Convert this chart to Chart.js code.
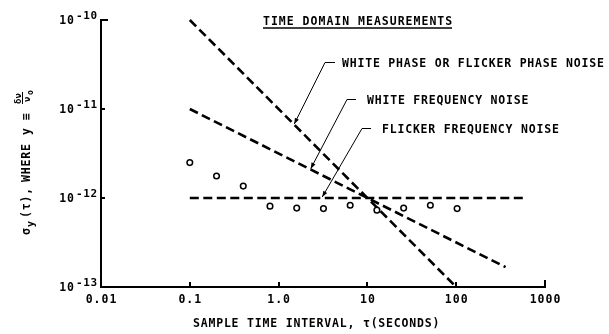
<!DOCTYPE html>
<html>
<head>
<meta charset="utf-8">
<script src="https://cdn.jsdelivr.net/npm/chart.js@4.4.1/dist/chart.umd.min.js"></script>
<style>
  html, body { margin: 0; padding: 0; background: #fff; }
  canvas { display: block; }
</style>
</head>
<body>
<canvas id="grafico" width="609" height="334"></canvas>
<script>
// valores
const tauMedido   = [0.1, 0.2, 0.4, 0.8, 1.6, 3.2, 6.4, 12.8, 25.6, 51.2, 102.4];
const sigmaMedido = [2.5e-12, 1.77e-12, 1.36e-12, 0.81e-12, 0.77e-12, 0.76e-12, 0.83e-12, 0.73e-12, 0.77e-12, 0.83e-12, 0.76e-12];

const tauFase     = [0.1, 100];
const sigmaFase   = [1e-10, 1e-13];
const tauFreq     = [0.1, 360];
const sigmaFreq   = [1e-11, 1.67e-13];
const tauFlicker  = [0.1, 600];
const sigmaFlicker = [1e-12, 1e-12];

const xTicks      = [0.01, 0.1, 1, 10, 100, 1000];
const xTickLabels = ['0.01', '0.1', '1.0', '10', '100', '1000'];
const yExpoentes  = [-10, -11, -12, -13];

const titulo = 'TIME DOMAIN MEASUREMENTS';
const tituloX = 'SAMPLE TIME INTERVAL, \u03C4(SECONDS)';

// rótulos com setas: texto e ponto (em dados) para onde a seta aponta
const rotulos = [
  { texto: 'WHITE PHASE OR FLICKER PHASE NOISE', alvo: { x: 1.5,  y: 6.6e-12 } },
  { texto: 'WHITE FREQUENCY NOISE',              alvo: { x: 2.3,  y: 2.08e-12 } },
  { texto: 'FLICKER FREQUENCY NOISE',            alvo: { x: 3.1,  y: 1e-12 } }
];

const FONTE = '"DejaVu Sans Mono", monospace';
const PESO = 'bold ';

function pares(xs, ys) { return xs.map((x, i) => ({ x: x, y: ys[i] })); }

function texto(ctx, s, x, y, tam, esp) {
  ctx.font = PESO + tam + 'px ' + FONTE;
  ctx.letterSpacing = (esp || 0) + 'px';
  ctx.fillText(s, x, y);
}

function seta(ctx, x0, y0, x1, y1) {
  ctx.beginPath();
  ctx.moveTo(x0, y0);
  ctx.lineTo(x1, y1);
  ctx.stroke();
  const a = Math.atan2(y1 - y0, x1 - x0);
  ctx.beginPath();
  ctx.moveTo(x1, y1);
  ctx.lineTo(x1 - 6 * Math.cos(a) + 2.2 * Math.sin(a), y1 - 6 * Math.sin(a) - 2.2 * Math.cos(a));
  ctx.lineTo(x1 - 6 * Math.cos(a) - 2.2 * Math.sin(a), y1 - 6 * Math.sin(a) + 2.2 * Math.cos(a));
  ctx.closePath();
  ctx.fill();
}

const textos = {
  id: 'textos',
  afterDraw(chart) {
    const ctx = chart.ctx;
    const sx = chart.scales.x, sy = chart.scales.y;
    const area = chart.chartArea;
    ctx.save();
    ctx.fillStyle = '#000';
    ctx.strokeStyle = '#000';
    ctx.textBaseline = 'alphabetic';

    // marcas dos eixos (para dentro)
    ctx.lineWidth = 2;
    ctx.beginPath();
    xTicks.slice(1).forEach((v, i) => {
      const px = Math.round(sx.getPixelForValue(v));
      const comp = (i === xTicks.length - 2) ? 7 : 5;
      ctx.moveTo(px, area.bottom);
      ctx.lineTo(px, area.bottom - comp);
    });
    yExpoentes.slice(0, 3).forEach((e, i) => {
      const py = Math.round(sy.getPixelForValue(Math.pow(10, e)));
      ctx.moveTo(area.left, py);
      ctx.lineTo(area.left + (i === 0 ? 7 : 4), py);
    });
    ctx.stroke();

    // rótulos do eixo x
    ctx.textAlign = 'center';
    xTicks.forEach((v, i) => {
      texto(ctx, xTickLabels[i], sx.getPixelForValue(v) + 0.5, 303, 11.5, 1);
    });

    // rótulos do eixo y: 10 com expoente
    yExpoentes.forEach(e => {
      const py = sy.getPixelForValue(Math.pow(10, e));
      ctx.textAlign = 'right';
      texto(ctx, '10', 75, py + 3.5, 11.5, 1);
      ctx.textAlign = 'left';
      texto(ctx, String(e), 76, py - 1.5, 11, 0.6);
    });

    // título do eixo x
    ctx.textAlign = 'left';
    texto(ctx, tituloX, 193, 327, 11.5, 0.8);

    // título do gráfico sublinhado
    texto(ctx, titulo, 263, 25, 11.5, 1);
    ctx.lineWidth = 1.5;
    ctx.beginPath();
    ctx.moveTo(263, 28);
    ctx.lineTo(452, 28);
    ctx.stroke();

    // rótulos das curvas com setas
    const inicios = [342, 367, 382];
    const bases = [67, 104, 133];
    const tocos = [[325, 335], [347, 356], [362, 371]];
    ctx.lineWidth = 1;
    rotulos.forEach((r, i) => {
      texto(ctx, r.texto, inicios[i], bases[i], 11.5, 0.8);
      const yl = bases[i] - 4.5;
      ctx.beginPath();
      ctx.moveTo(tocos[i][0], yl);
      ctx.lineTo(tocos[i][1], yl);
      ctx.stroke();
      seta(ctx, tocos[i][0], yl, sx.getPixelForValue(r.alvo.x), sy.getPixelForValue(r.alvo.y) - 1);
    });

    // título do eixo y (girado)
    ctx.save();
    ctx.translate(30, 235);
    ctx.rotate(-Math.PI / 2);
    ctx.textAlign = 'left';
    texto(ctx, '\u03C3', 0, 0, 11.5, 0);
    texto(ctx, 'y', 8, 3.5, 10, 0);
    texto(ctx, '(\u03C4),', 17, 0, 11.5, 0.8);
    texto(ctx, 'WHERE', 53, 0, 11.5, 0.8);
    texto(ctx, 'y', 100, 0, 11.5, 0);
    texto(ctx, '\u2261', 115, 0, 11.5, 0);
    texto(ctx, '\u03B4\u03BD', 131, -9, 9, 0);
    ctx.lineWidth = 1;
    ctx.beginPath();
    ctx.moveTo(131, -7.5);
    ctx.lineTo(143, -7.5);
    ctx.stroke();
    texto(ctx, '\u03BD', 133, 0, 9, 0);
    texto(ctx, 'o', 140, 3, 8, 0);
    ctx.restore();

    ctx.restore();
  }
};

const tracejado = [9, 4.5];

new Chart(document.getElementById('grafico'), {
  type: 'scatter',
  data: {
    datasets: [
      {
        label: 'Medido',
        data: pares(tauMedido, sigmaMedido),
        pointStyle: 'circle',
        pointRadius: 2.8,
        pointBorderWidth: 1.5,
        pointBackgroundColor: '#fff',
        pointBorderColor: '#000',
        showLine: false,
        order: 0
      },
      {
        label: 'White phase',
        data: pares(tauFase, sigmaFase),
        showLine: true,
        borderColor: '#000',
        borderWidth: 2.6,
        borderDash: tracejado,
        pointRadius: 0,
        clip: false,
        order: 1
      },
      {
        label: 'White frequency',
        data: pares(tauFreq, sigmaFreq),
        showLine: true,
        borderColor: '#000',
        borderWidth: 2.6,
        borderDash: tracejado,
        pointRadius: 0,
        clip: false,
        order: 1
      },
      {
        label: 'Flicker frequency',
        data: pares(tauFlicker, sigmaFlicker),
        showLine: true,
        borderColor: '#000',
        borderWidth: 2.6,
        borderDash: tracejado,
        pointRadius: 0,
        clip: false,
        order: 1
      }
    ]
  },
  options: {
    responsive: false,
    animation: false,
    devicePixelRatio: 1,
    layout: { padding: { left: 93, right: 64, top: 20, bottom: 39 } },
    plugins: {
      legend: { display: false },
      tooltip: { enabled: false }
    },
    scales: {
      x: {
        type: 'logarithmic',
        min: 0.01,
        max: 1000,
        ticks: { display: false },
        grid: { display: false },
        border: { display: true, color: '#000', width: 2 }
      },
      y: {
        type: 'logarithmic',
        min: 1e-13,
        max: 1e-10,
        ticks: { display: false },
        grid: { display: false },
        border: { display: true, color: '#000', width: 2 }
      }
    }
  },
  plugins: [textos]
});
</script>
</body>
</html>
